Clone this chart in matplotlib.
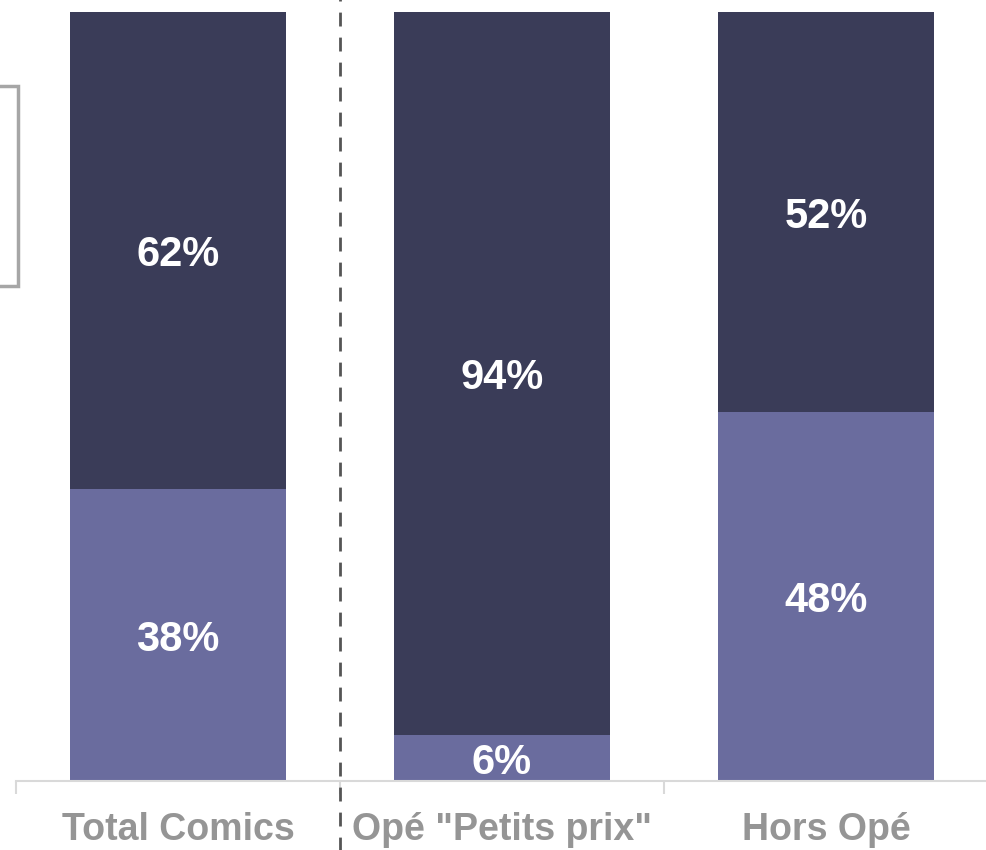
import numpy as np
import matplotlib
matplotlib.use("Agg")
import matplotlib.pyplot as plt
from matplotlib.patches import Rectangle
from matplotlib.transforms import ScaledTranslation

categories = ['Total Comics', 'Opé "Petits prix"', 'Hors Opé']
bottom_share = [38, 6, 48]
top_share = [62, 94, 52]

DARK = '#3A3C58'
LIGHT = '#6A6C9E'

plt.rcParams['font.family'] = ['Liberation Sans', 'DejaVu Sans']

fig = plt.figure(figsize=(9.86, 8.5), dpi=100)
ax = fig.add_axes([16 / 986, 69 / 850, 972 / 986, 769 / 850])

x = np.arange(len(categories))
w = 216 / 324
ax.bar(x, bottom_share, width=w, color=LIGHT)
ax.bar(x, top_share, width=w, bottom=bottom_share, color=DARK)

# value labels centred in each segment (nudged down a few pixels)
shift = ax.transData + ScaledTranslation(0, -5 / 100, fig.dpi_scale_trans)
for xi, b, t in zip(x, bottom_share, top_share):
    ax.text(xi, b / 2, f"{b}%", ha='center', va='center', color='white',
            fontsize=30, fontweight='bold', transform=shift)
    ax.text(xi, b + t / 2, f"{t}%", ha='center', va='center', color='white',
            fontsize=30, fontweight='bold', transform=shift)

ax.set_xlim(-0.5, 2.5)
ax.set_ylim(0, 100)
ax.set_yticks([])
for s in ['top', 'right', 'left']:
    ax.spines[s].set_visible(False)
ax.spines['bottom'].set_color('#D9D9D9')
ax.spines['bottom'].set_linewidth(1.5)

# category separators as ticks, names as minor labels
ax.set_xticks([-0.5, 0.5, 1.5, 2.5])
ax.set_xticklabels([])
ax.tick_params(axis='x', which='major', length=9, width=1.5, color='#D9D9D9')
ax.set_xticks(x, minor=True)
ax.set_xticklabels(categories, minor=True)
ax.tick_params(axis='x', which='minor', length=0, pad=22, labelsize=27,
               labelcolor='#959595')
for lbl in ax.get_xticklabels(minor=True):
    lbl.set_fontweight('bold')

# dashed separator running through the labels
ax.axvline(0.5, ymin=-0.1, ymax=1.02, color='#555555', lw=2,
           linestyle=(0, (5, 4)), clip_on=False)

# partially visible legend frame on the left edge
fig.patches.append(Rectangle((-20 / 986, 1 - 286 / 850), 38 / 986, 200 / 850,
                             transform=fig.transFigure, fill=False,
                             edgecolor='#A6A6A6', lw=2.5))

fig.savefig('out.png', dpi=100)
